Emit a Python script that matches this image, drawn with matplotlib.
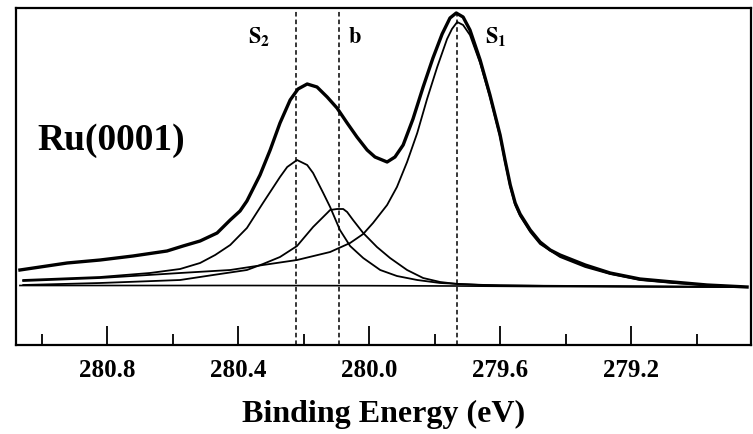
import numpy as np
import matplotlib
matplotlib.use('Agg')
import matplotlib.pyplot as plt

plt.rcParams['font.family'] = 'Liberation Serif'
plt.rcParams['font.weight'] = 'bold'
plt.rcParams['mathtext.fontset'] = 'stix'

# measured spectrum (binding energy in eV, intensity in a.u.)
env_e = [281.066, 280.922, 280.821, 280.721, 280.617, 280.568, 280.516, 280.464,
         280.424, 280.394, 280.373, 280.333, 280.302, 280.272, 280.241, 280.217,
         280.189, 280.159, 280.128, 280.098, 280.067, 280.037, 280.006, 279.982,
         279.945, 279.921, 279.896, 279.866, 279.835, 279.805, 279.777, 279.753,
         279.734, 279.713, 279.692, 279.661, 279.631, 279.600, 279.585, 279.569,
         279.554, 279.539, 279.508, 279.478, 279.447, 279.417, 279.340, 279.264,
         279.173, 279.072, 278.968, 278.846]
env_i = [75, 82, 85, 89, 94, 99, 104, 112,
         125, 134, 144, 170, 195, 222, 245, 256,
         261, 258, 248, 237, 222, 208, 195, 188,
         183, 188, 200, 226, 258, 287, 311, 327,
         332, 328, 315, 285, 250, 210, 185, 160,
         142, 131, 115, 103, 95, 90, 80, 72,
         66, 63, 60, 58]

# S1 component
s1_e = [281.056, 280.821, 280.577, 280.424, 280.324, 280.220, 280.119, 280.058,
        280.018, 279.988, 279.945, 279.915, 279.884, 279.853, 279.823, 279.792,
        279.762, 279.747, 279.731, 279.713, 279.692, 279.661, 279.631, 279.600,
        279.585, 279.569, 279.554, 279.539, 279.508, 279.478, 279.417, 279.340,
        279.264, 279.173, 279.072, 278.968, 278.846]
s1_i = [64, 67, 72, 75, 80, 85, 93, 102,
        111, 122, 140, 158, 183, 212, 246, 278,
        306, 316, 323, 320, 310, 282, 248, 208,
        183, 158, 140, 129, 113, 101, 88, 78,
        71, 65, 62, 60, 58]

# S2 component
s2_e = [281.056, 280.821, 280.669, 280.577, 280.516, 280.470, 280.424, 280.373,
        280.324, 280.272, 280.250, 280.220, 280.189, 280.171, 280.140, 280.119,
        280.089, 280.058, 280.018, 279.966, 279.915, 279.853, 279.783, 279.661,
        279.447, 278.846]
s2_i = [65, 68, 72, 76, 82, 90, 100, 117,
        142, 168, 178, 185, 180, 172, 152, 138,
        115, 99, 87, 75, 69, 65, 62, 60,
        59, 58]

# bulk (b) component
b_e = [281.056, 280.821, 280.577, 280.476, 280.373, 280.324, 280.272, 280.220,
       280.171, 280.128, 280.119, 280.098, 280.079, 280.067, 280.049, 280.018,
       279.976, 279.936, 279.884, 279.835, 279.783, 279.731, 279.600, 278.846]
b_i = [60, 62, 65, 70, 75, 81, 88, 99,
       118, 132, 135, 136, 136, 133, 125, 112,
       98, 87, 75, 67, 63, 61, 59.5, 58]

# background
bg_e = [281.066, 280.400, 280.000, 279.731, 279.500, 278.846]
bg_i = [59.5, 59.5, 59.3, 59.0, 58.5, 58.0]

peak_pos = [280.223, 280.092, 279.731]
major_ticks = [280.8, 280.4, 280.0, 279.6, 279.2]
minor_ticks = [281.0, 280.6, 280.2, 279.8, 279.4, 279.0]

fig = plt.figure(figsize=(7.53, 4.34), dpi=100)
ax = fig.add_axes([16 / 753, 89 / 434, 735 / 753, 337 / 434])

ax.plot(bg_e, bg_i, color='k', lw=1.2)
ax.plot(b_e, b_i, color='k', lw=1.3)
ax.plot(s2_e, s2_i, color='k', lw=1.3)
ax.plot(s1_e, s1_i, color='k', lw=1.3)
ax.plot(env_e, env_i, color='k', lw=2.4)

for e in peak_pos:
    ax.axvline(e, color='k', lw=1.1, ls=(0, (3, 2)))

ax.text(280.369, 302, r'$\mathbf{S}_{\mathbf{2}}$', fontsize=16)
ax.text(280.064, 302, r'$\mathbf{b}$', fontsize=16)
ax.text(279.646, 302, r'$\mathbf{S}_{\mathbf{1}}$', fontsize=16)
ax.text(281.014, 195, 'Ru(0001)', fontsize=27, fontweight='bold')

ax.set_xlim(281.078, 278.834)
ax.set_ylim(0, 337)
ax.set_yticks([])
ax.set_xticks(major_ticks)
ax.set_xticklabels(['%.1f' % t for t in major_ticks])
ax.set_xticks(minor_ticks, minor=True)
ax.tick_params(axis='x', which='major', direction='in', length=14, width=1.3,
               labelsize=18, pad=10)
ax.tick_params(axis='x', which='minor', direction='in', length=8, width=1.3)
for s in ax.spines.values():
    s.set_linewidth(1.6)

ax.set_xlabel('Binding Energy (eV)', fontsize=23, fontweight='bold', labelpad=13)

fig.savefig('out.png', dpi=100)
